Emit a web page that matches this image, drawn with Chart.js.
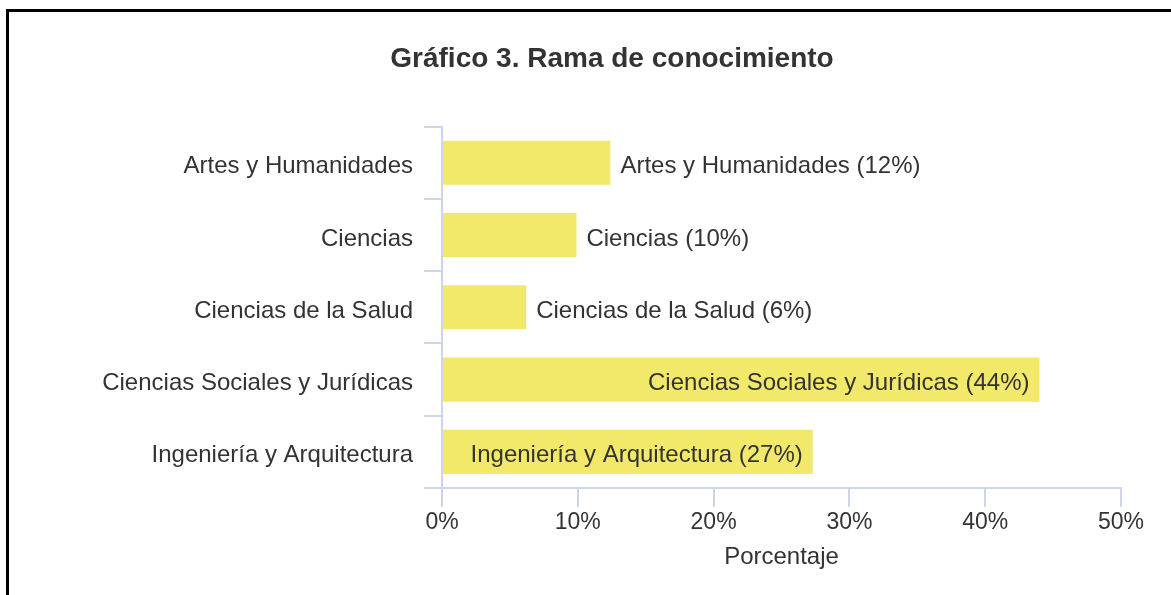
<!DOCTYPE html>
<html>
<head>
<meta charset="utf-8">
<script src="https://cdn.jsdelivr.net/npm/chart.js@4"></script>
<style>
html, body { margin: 0; padding: 0; background: #fff; overflow: hidden; width: 1171px; height: 595px; }
#box { position: absolute; left: 6px; top: 9px; width: 1206px; height: 600px; border: 3px solid #000; }
#grafico { display: block; }
</style>
</head>
<body>
<div id="box"><canvas id="grafico" width="1206" height="583"></canvas></div>
<script>
// Datos del gráfico
const ramas = [
  'Artes y Humanidades',
  'Ciencias',
  'Ciencias de la Salud',
  'Ciencias Sociales y Jurídicas',
  'Ingeniería y Arquitectura'
];
const porcentajes = [12.4, 9.9, 6.2, 44.0, 27.3];
const tituloGrafico = 'Gráfico 3. Rama de conocimiento';
const tituloEjeX = 'Porcentaje';

const colorTexto = '#333333';
const colorEje = '#ccd6eb';
const fuente = '"Liberation Sans", Arial, sans-serif';

// Etiquetas de cada barra: dentro si caben, fuera si no
const etiquetasBarras = {
  id: 'etiquetasBarras',
  afterDatasetsDraw(chart) {
    const ctx = chart.ctx;
    const meta = chart.getDatasetMeta(0);
    ctx.save();
    ctx.font = '24px ' + fuente;
    ctx.fillStyle = colorTexto;
    ctx.textBaseline = 'middle';
    meta.data.forEach((bar, i) => {
      const texto = ramas[i] + ' (' + Math.round(porcentajes[i]) + '%)';
      const ancho = ctx.measureText(texto).width;
      const largo = bar.x - bar.base;
      if (ancho + 20 <= largo) {
        ctx.textAlign = 'right';
        ctx.fillText(texto, bar.x - 10, bar.y + 4);
      } else {
        ctx.textAlign = 'left';
        ctx.fillText(texto, bar.x + 10, bar.y + 4);
      }
    });
    ctx.restore();
  }
};

document.addEventListener('DOMContentLoaded', function() {
  const ctx = document.getElementById('grafico').getContext('2d');
  new Chart(ctx, {
    type: 'bar',
    data: {
      labels: ramas,
      datasets: [{
        data: porcentajes,
        backgroundColor: 'rgb(242, 233, 107)',
        borderWidth: 0,
        categoryPercentage: 0.61,
        barPercentage: 1
      }]
    },
    options: {
      indexAxis: 'y',
      responsive: false,
      animation: false,
      devicePixelRatio: 1,
      layout: { padding: 0 },
      plugins: {
        legend: { display: false },
        tooltip: { enabled: false },
        title: {
          display: true,
          text: tituloGrafico,
          color: colorTexto,
          font: { family: fuente, size: 28, weight: 'bold' },
          padding: { top: 30, bottom: 51 }
        }
      },
      scales: {
        x: {
          min: 0,
          max: 50,
          afterFit: s => { s.height = 107; },
          border: { color: colorEje, width: 2 },
          grid: { drawOnChartArea: false, color: colorEje, lineWidth: 2, tickLength: 19 },
          ticks: {
            stepSize: 10,
            padding: 2,
            color: colorTexto,
            font: { family: fuente, size: 23 },
            callback: v => v + '%'
          },
          title: {
            display: true,
            text: tituloEjeX,
            color: colorTexto,
            font: { family: fuente, size: 24 },
            padding: { top: 0, bottom: 23 }
          }
        },
        y: {
          afterFit: s => { s.width = 433; },
          border: { color: colorEje, width: 2 },
          grid: { drawOnChartArea: false, color: colorEje, lineWidth: 2, tickLength: 18, offset: true },
          ticks: {
            padding: 11,
            labelOffset: 4,
            color: colorTexto,
            font: { family: fuente, size: 24 }
          }
        },
        // margen derecho (sin contenido visible)
        derecha: {
          type: 'linear',
          position: 'right',
          afterFit: s => { s.width = 94; },
          border: { display: false },
          grid: { display: false },
          ticks: { display: false }
        }
      }
    },
    plugins: [etiquetasBarras]
  });
});
</script>
</body>
</html>
